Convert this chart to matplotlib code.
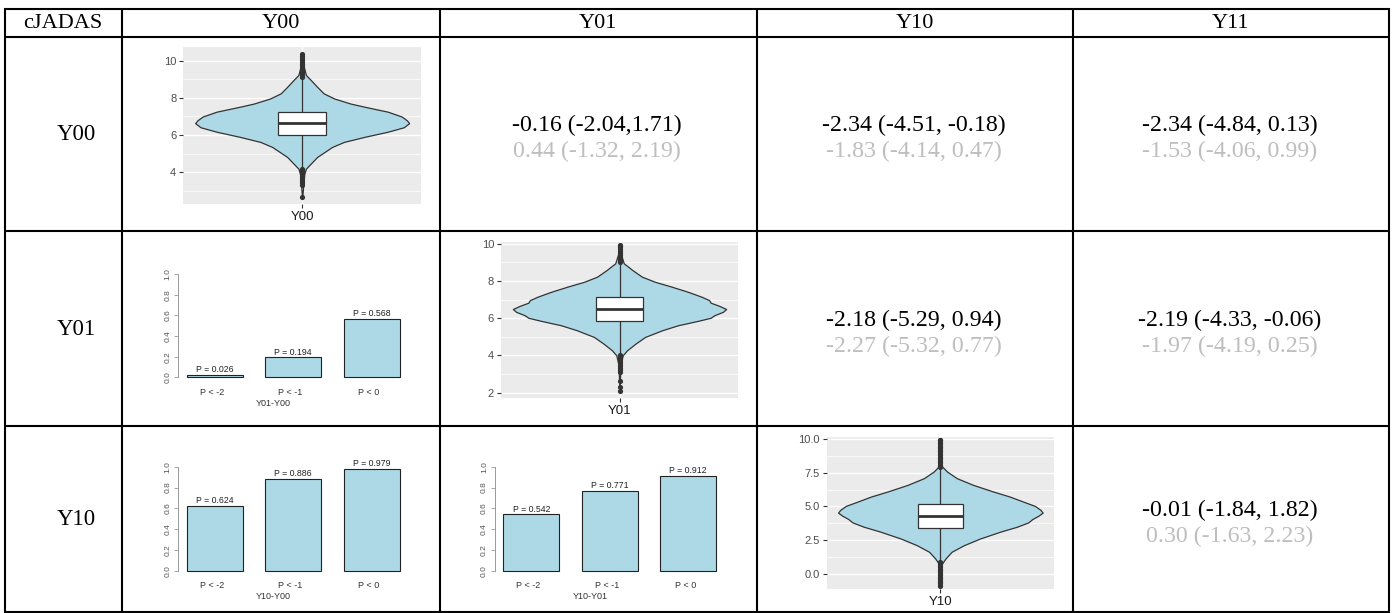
import numpy as np
import matplotlib
matplotlib.use("Agg")
import matplotlib.pyplot as plt
from matplotlib.patches import Rectangle

W, H = 1395, 613

# ---------------- data ----------------
col_headers = ["cJADAS", "Y00", "Y01", "Y10", "Y11"]
row_headers = ["Y00", "Y01", "Y10"]

# text cells: (row, col) -> (black line, gray line)
cell_main = {
    (0, 2): "-0.16 (-2.04,1.71)", (0, 3): "-2.34 (-4.51, -0.18)", (0, 4): "-2.34 (-4.84, 0.13)",
    (1, 3): "-2.18 (-5.29, 0.94)", (1, 4): "-2.19 (-4.33, -0.06)",
    (2, 4): "-0.01 (-1.84, 1.82)",
}
cell_alt = {
    (0, 2): "0.44 (-1.32, 2.19)", (0, 3): "-1.83 (-4.14, 0.47)", (0, 4): "-1.53 (-4.06, 0.99)",
    (1, 3): "-2.27 (-5.32, 0.77)", (1, 4): "-1.97 (-4.19, 0.25)",
    (2, 4): "0.30 (-1.63, 2.23)",
}

# bar charts (probabilities)
bar_cats = ["P < -2", "P < -1", "P < 0"]
bar_y01_y00 = [0.026, 0.194, 0.568]
bar_y10_y00 = [0.624, 0.886, 0.979]
bar_y10_y01 = [0.542, 0.771, 0.912]

# violin profiles (y value, relative density)
v00_y = [2.55, 3.3, 3.9, 4.19, 4.46, 4.82, 5.09, 5.36, 5.63, 5.9, 6.18, 6.42, 6.64,
         6.79, 7.0, 7.26, 7.53, 7.7, 7.97, 8.25, 8.6, 8.97, 9.24, 9.8, 10.35]
v00_w = [0.0, 0.01, 0.02, 0.035, 0.08, 0.14, 0.21, 0.28, 0.39, 0.58, 0.80, 0.95, 1.0,
         0.98, 0.93, 0.80, 0.58, 0.45, 0.30, 0.20, 0.14, 0.08, 0.035, 0.01, 0.0]
v00_box = [4.2, 6.0, 6.64, 7.26, 9.15]   # whisker low, q1, median, q3, whisker high
v00_out = [2.65, 3.3, 3.4, 3.5, 3.6, 3.7, 3.8, 3.9, 4.0, 4.1, 4.18,
           9.15, 9.25, 9.35, 9.45, 9.55, 9.65, 9.75, 9.85, 9.95, 10.05, 10.15, 10.25, 10.35]

v01_y = [2.07, 3.5, 4.0, 4.27, 4.63, 4.99, 5.35, 5.62, 5.86, 6.02, 6.16, 6.34, 6.49,
         6.65, 6.83, 6.97, 7.15, 7.42, 7.69, 7.96, 8.23, 8.59, 8.95, 9.4, 9.95]
v01_w = [0.0, 0.01, 0.03, 0.07, 0.15, 0.24, 0.40, 0.55, 0.74, 0.855, 0.89, 0.97, 1.0,
         0.94, 0.855, 0.84, 0.77, 0.64, 0.49, 0.33, 0.21, 0.12, 0.04, 0.015, 0.0]
v01_box = [4.05, 5.86, 6.5, 7.15, 9.0]
v01_out = [2.07, 2.29, 2.6, 3.1, 3.2, 3.3, 3.4, 3.5, 3.6, 3.7, 3.8, 3.9, 4.0,
           9.0, 9.1, 9.2, 9.3, 9.4, 9.5, 9.6, 9.7, 9.8, 9.9, 9.95]

v10_y = [-0.9, 0.3, 0.77, 1.14, 1.64, 2.13, 2.63, 3.13, 3.5, 3.82, 4.07, 4.32, 4.54,
         4.74, 5.04, 5.36, 5.73, 6.10, 6.60, 7.10, 7.59, 7.97, 9.0, 9.95]
v10_w = [0.0, 0.005, 0.016, 0.05, 0.11, 0.23, 0.39, 0.585, 0.75, 0.86, 0.90, 0.96, 1.0,
         0.98, 0.925, 0.81, 0.68, 0.52, 0.32, 0.16, 0.065, 0.016, 0.004, 0.0]
v10_box = [0.85, 3.42, 4.32, 5.16, 7.9]
v10_out = [-0.9, -0.8, -0.7, -0.6, -0.5, -0.4, -0.3, -0.2, -0.1, 0.0, 0.1, 0.2, 0.3,
           0.4, 0.5, 0.6, 0.7, 0.8, 0.9,
           7.9, 8.0, 8.1, 8.2, 8.3, 8.4, 8.5, 8.6, 8.7, 8.8, 8.9, 9.0, 9.1, 9.2, 9.3,
           9.4, 9.5, 9.6, 9.7, 9.8, 9.9, 9.95]

# ---------------- figure ----------------
fig = plt.figure(figsize=(W / 100, H / 100), dpi=100)
base = fig.add_axes([0, 0, 1, 1])
base.set_xlim(0, W)
base.set_ylim(H, 0)
base.axis("off")


def px_axes(x0, y0, x1, y1):
    return fig.add_axes([x0 / W, 1 - y1 / H, (x1 - x0) / W, (y1 - y0) / H])


SERIF = ["Liberation Serif", "DejaVu Serif"]
SANS = ["Liberation Sans", "DejaVu Sans"]

# table grid
xs = [5, 121.5, 440, 756.5, 1073, 1389]
ys = [8.5, 36.5, 231, 425.5, 611.5]
for x in xs:
    base.plot([x, x], [ys[0] - 1, ys[-1] + 1], color="black", lw=1.5, solid_capstyle="butt")
for y in ys:
    base.plot([xs[0] - 1, xs[-1] + 1], [y, y], color="black", lw=1.5, solid_capstyle="butt")

col_c = [(xs[i] + xs[i + 1]) / 2 for i in range(5)]
row_c = [(ys[i] + ys[i + 1]) / 2 for i in range(4)]

for i, t in enumerate(col_headers):
    base.text(col_c[i], row_c[0] + 1, t, ha="center", va="center", fontsize=16, family=SERIF)
for r, t in enumerate(row_headers):
    base.text(col_c[0] + 13, row_c[r + 1] + 1, t, ha="center", va="center", fontsize=16.5, family=SERIF)

for (r, c), t in cell_main.items():
    base.text(col_c[c] - 1, row_c[r + 1] - 8, t, ha="center", va="center", fontsize=17.2,
              family=SERIF, color="black")
    base.text(col_c[c] - 1, row_c[r + 1] + 18, cell_alt[(r, c)], ha="center", va="center",
              fontsize=17.2, family=SERIF, color="#BEBEBE")


# ---------------- violins ----------------
def violin(rect, ylim, yticks, ylabels, minor, vy, vw, box, outs, label):
    ax = px_axes(*rect)
    ax.set_facecolor("#EBEBEB")
    for s in ax.spines.values():
        s.set_visible(False)
    ax.set_xlim(0.5, 1.5)
    ax.set_ylim(*ylim)
    for m in minor:
        ax.axhline(m, color="white", lw=0.5, zorder=0.5)
    for t in yticks:
        ax.axhline(t, color="white", lw=1.0, zorder=0.6)
    ax.axvline(1, color="white", lw=1.0, zorder=0.6)
    vy = np.asarray(vy)
    vw = np.asarray(vw) * 0.45
    ax.fill_betweenx(vy, 1 - vw, 1 + vw, facecolor="#ADD8E6", edgecolor="#333333",
                     lw=0.9, zorder=2)
    wl, q1, md, q3, wh = box
    ax.plot([1, 1], [wl, q1], color="#333333", lw=0.9, zorder=3)
    ax.plot([1, 1], [q3, wh], color="#333333", lw=0.9, zorder=3)
    ax.add_patch(Rectangle((0.9, q1), 0.2, q3 - q1, facecolor="white", edgecolor="#333333",
                           lw=0.9, zorder=4))
    ax.plot([0.9, 1.1], [md, md], color="#333333", lw=2.0, zorder=5, solid_capstyle="butt")
    ax.scatter(np.ones(len(outs)), outs, s=14, color="#333333", zorder=3, linewidths=0)
    ax.set_yticks(yticks)
    ax.set_yticklabels(ylabels, family=SANS, fontsize=8, color="#4D4D4D")
    ax.set_xticks([1])
    ax.set_xticklabels([label], family=SANS, fontsize=9.5, color="#1A1A1A")
    ax.tick_params(axis="both", length=3, width=0.8, color="#333333", pad=2)
    return ax


violin((183.3, 46.7, 421, 204.3), (2.27, 10.76), [4, 6, 8, 10], ["4", "6", "8", "10"],
       [3, 5, 7, 9], v00_y, v00_w, v00_box, v00_out, "Y00")
violin((501, 241.7, 738, 398.3), (1.69, 10.11), [2, 4, 6, 8, 10], ["2", "4", "6", "8", "10"],
       [3, 5, 7, 9], v01_y, v01_w, v01_box, v01_out, "Y01")
violin((826.7, 436.7, 1054, 589.3), (-1.14, 10.17), [0, 2.5, 5, 7.5, 10],
       ["0.0", "2.5", "5.0", "7.5", "10.0"], [1.25, 3.75, 6.25, 8.75],
       v10_y, v10_w, v10_box, v10_out, "Y10")


# ---------------- bar charts ----------------
def barchart(x_axis, y0px, unit, vals, xlab):
    # plot region from R-like barplot: bars width 1, space 0.4
    xl = (0.248, 4.352)
    yl = (-0.04, 1.04)
    bw = 56.0
    x0 = x_axis
    x1 = x_axis + (xl[1] - xl[0]) * bw
    ytop = y0px - yl[1] * unit
    ybot = y0px - yl[0] * unit
    ax = px_axes(x0, ytop, x1, ybot)
    ax.set_xlim(*xl)
    ax.set_ylim(*yl)
    ax.patch.set_alpha(0)
    for k in ["top", "right", "bottom"]:
        ax.spines[k].set_visible(False)
    ax.spines["left"].set_color("#999999")
    ax.spines["left"].set_linewidth(0.7)
    ax.spines["left"].set_bounds(0, 1)
    centers = [0.9, 2.3, 3.7]
    ax.bar(centers, vals, width=1.0, color="#ADD8E6", edgecolor="#222222", lw=0.8)
    for c, v in zip(centers, vals):
        ax.text(c, v + 0.004, "P = %.3f" % v, ha="center", va="bottom", fontsize=6.3,
                family=SANS, color="#222222")
    for c, t in zip(centers, bar_cats):
        ax.text(c - 0.05, -0.145, t, ha="center", va="center", fontsize=6.5, family=SANS,
                color="#333333", clip_on=False)
    ax.text(1.95, -0.25, xlab, ha="center", va="center", fontsize=6.5, family=SANS,
            color="#333333", clip_on=False)
    ax.set_xticks([])
    ax.set_yticks([0, 0.2, 0.4, 0.6, 0.8, 1.0])
    ax.set_yticklabels(["0.0", "0.2", "0.4", "0.6", "0.8", "1.0"], rotation=90,
                       va="center", family=SANS, fontsize=6, color="#555555")
    ax.tick_params(axis="y", length=3, width=0.6, color="#999999", pad=2)
    return ax


barchart(178.3, 377.3, 103.3, bar_y01_y00, "Y01-Y00")
barchart(178.3, 570.7, 104.0, bar_y10_y00, "Y10-Y00")
barchart(494.8, 570.7, 104.0, bar_y10_y01, "Y10-Y01")

fig.savefig("out.png", dpi=100)
